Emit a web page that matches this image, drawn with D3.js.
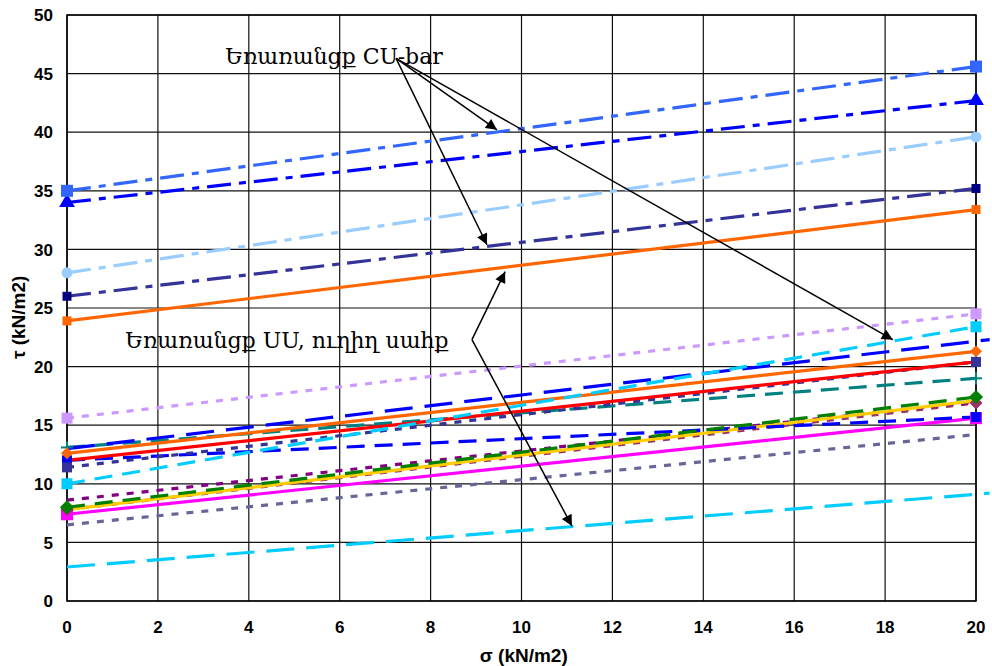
<!DOCTYPE html>
<html>
<head>
<meta charset="utf-8">
<script src="https://cdnjs.cloudflare.com/ajax/libs/d3/7.8.5/d3.min.js"></script>
<style>
  html, body { margin: 0; padding: 0; background: #fff; }
  svg { display: block; }
  .tick-lbl { font-family: "Liberation Sans", Arial, sans-serif; font-weight: bold; font-size: 17px; fill: #000; }
  .ax-title { font-family: "Liberation Sans", Arial, sans-serif; font-weight: bold; font-size: 19px; fill: #000; }
  .note { font-family: "DejaVu Serif", "Liberation Serif", serif; font-size: 22px; fill: #000; }
</style>
</head>
<body>
<svg id="chart" width="992" height="666"></svg>
<script>
// ─────────────────────────────────────────────
// Données : τ à σ = 0 et σ = 20
// ─────────────────────────────────────────────
const xTicks = [0, 2, 4, 6, 8, 10, 12, 14, 16, 18, 20];
const yTicks = [0, 5, 10, 15, 20, 25, 30, 35, 40, 45, 50];

// séries CU-bar (tirets-points)
const cuNames   = ['CU1', 'CU2', 'CU3', 'CU4', 'CU5'];
const cuStart   = [35.0, 34.0, 28.0, 26.0, 23.9];
const cuEnd     = [45.6, 42.7, 39.6, 35.2, 33.4];

// séries UU
const uuNames   = ['UU1', 'UU2', 'UU3', 'UU4', 'UU5', 'UU6', 'UU7', 'UU8', 'UU9', 'UU10', 'UU11', 'UU12', 'UU13', 'UU14', 'UU15'];
const uuStart   = [15.6, 10.0, 13.0, 12.6, 12.0, 11.4, 13.1, 8.0, 7.8, 8.6, 7.8, 7.4, 12.0, 6.5, 2.9];
const uuEnd     = [24.5, 23.4, 22.3, 21.3, 20.4, 20.4, 19.0, 17.4, 17.1, 17.0, 16.9, 15.6, 15.7, 14.2, 9.2];
const uuXEnd    = [20, 20, 20.3, 20, 20, 20, 20, 20, 20, 20, 20, 20, 20, 20, 20.3];

// ─────────────────────────────────────────────
// Styles
// ─────────────────────────────────────────────
const DASHDOT = '24,8,7,8';
const DASH    = '18,10';
const LDASH   = '28,12';
const DOT     = '7,8';

const cuStyle = [
  { color: '#3366FF', mk: 'square',   mc: '#3366FF', ms: 12, dash: DASHDOT },
  { color: '#0000FF', mk: 'triangle', mc: '#0000FF', ms: 12, dash: DASHDOT },
  { color: '#99CCFF', mk: 'circle',   mc: '#99CCFF', ms: 11, dash: DASHDOT },
  { color: '#333399', mk: 'square',   mc: '#000080', ms: 9,  dash: DASHDOT },
  { color: '#FF6600', mk: 'square',   mc: '#FF6600', ms: 9,  dash: null }
];
const uuStyle = [
  { color: '#CC99FF', mk: 'square',  mc: '#CC99FF', ms: 11, dash: DOT },
  { color: '#00CCFF', mk: 'square',  mc: '#00CCFF', ms: 11, dash: DASH },
  { color: '#0000FF', mk: null,      dash: LDASH },
  { color: '#FF6600', mk: 'diamond', mc: '#FF6600', ms: 11, dash: null },
  { color: '#FF0000', mk: null,      dash: null },
  { color: '#333399', mk: 'square',  mc: '#333399', ms: 10, dash: DOT },
  { color: '#008080', mk: 'plus',    mc: '#008080', ms: 12, dash: DASH },
  { color: '#008000', mk: 'diamond', mc: '#008000', ms: 13, dash: DASH },
  { color: '#FFCC00', mk: null,      dash: null },
  { color: '#800080', mk: null,      dash: DOT },
  { color: '#993366', mk: 'diamond', mc: '#993366', ms: 12, dash: DOT },
  { color: '#FF00FF', mk: 'square',  mc: '#FF00FF', ms: 12, dash: null },
  { color: '#0000FF', mk: 'square',  mc: '#0000FF', ms: 10, dash: DASH },
  { color: '#666699', mk: null,      dash: DOT },
  { color: '#00CCFF', mk: null,      dash: LDASH }
];

// annotations (coordonnées en unités des axes)
const notes = [
  { text: 'Եռառանցք CU-bar', x: 3.48, y: 45.8, from: [7.24, 46.3],
    to: [[9.46, 40.2], [9.24, 30.4], [18.17, 22.3]] },
  { text: 'Եռառանցք UU, ուղիղ սահք', x: 1.28, y: 21.6, from: [8.91, 22.3],
    to: [[9.64, 28.1], [11.11, 6.4]] }
];

// ─────────────────────────────────────────────
// Mise en page
// ─────────────────────────────────────────────
const W = 992, H = 666;
const M = { left: 67, right: 16, top: 15, bottom: 65 };
const svg = d3.select('#chart');
const x = d3.scaleLinear().domain([0, 20]).range([M.left, W - M.right]);
const y = d3.scaleLinear().domain([0, 50]).range([H - M.bottom, M.top]);

// grille
const grid = svg.append('g');
grid.selectAll('line.v').data(xTicks).enter().append('line')
  .attr('x1', d => x(d)).attr('x2', d => x(d))
  .attr('y1', y(0)).attr('y2', y(50))
  .attr('stroke', '#111').attr('stroke-width', 1.2);
grid.selectAll('line.h').data(yTicks).enter().append('line')
  .attr('x1', x(0)).attr('x2', x(20))
  .attr('y1', d => y(d)).attr('y2', d => y(d))
  .attr('stroke', '#111').attr('stroke-width', 1.2);
svg.append('rect')
  .attr('x', x(0)).attr('y', y(50))
  .attr('width', x(20) - x(0)).attr('height', y(0) - y(50))
  .attr('fill', 'none').attr('stroke', '#000').attr('stroke-width', 1.5);

// graduations
svg.append('g').selectAll('text').data(yTicks).enter().append('text')
  .attr('class', 'tick-lbl')
  .attr('x', x(0) - 14).attr('y', d => y(d))
  .attr('dy', '0.36em').attr('text-anchor', 'end')
  .text(d => d);
svg.append('g').selectAll('text').data(xTicks).enter().append('text')
  .attr('class', 'tick-lbl')
  .attr('x', d => x(d)).attr('y', y(0) + 26)
  .attr('dy', '0.36em').attr('text-anchor', 'middle')
  .text(d => d);

svg.append('text').attr('class', 'ax-title')
  .attr('x', x(10.05)).attr('y', H - 4)
  .attr('text-anchor', 'middle').text('σ (kN/m2)');
svg.append('text').attr('class', 'ax-title')
  .attr('transform', `translate(25,${y(24.2)}) rotate(-90)`)
  .attr('text-anchor', 'middle').text('τ (kN/m2)');

// ─────────────────────────────────────────────
// Séries
// ─────────────────────────────────────────────
const series = [];
cuNames.forEach((n, i) => series.push({ name: n, pts: [[0, cuStart[i]], [20, cuEnd[i]]], st: cuStyle[i] }));
uuNames.forEach((n, i) => series.push({ name: n, pts: [[0, uuStart[i]], [uuXEnd[i], uuEnd[i]]], st: uuStyle[i] }));

// ordre de tracé : les lignes du bas d'abord
const drawOrder = [19, 18, 16, 15, 14, 13, 17, 12, 11, 10, 9, 8, 7, 6, 5, 4, 3, 2, 1, 0];
const line = d3.line().x(d => x(d[0])).y(d => y(d[1]));

const symbolOf = {
  square: d3.symbolSquare, triangle: d3.symbolTriangle, circle: d3.symbolCircle,
  diamond: d3.symbolDiamond2, plus: d3.symbolCross
};

const gSeries = svg.append('g');
drawOrder.forEach(idx => {
  const s = series[idx];
  gSeries.append('path')
    .datum(s.pts)
    .attr('d', line)
    .attr('fill', 'none')
    .attr('stroke', s.st.color)
    .attr('stroke-width', 3.2)
    .attr('stroke-dasharray', s.st.dash);
});
drawOrder.forEach(idx => {
  const s = series[idx];
  if (!s.st.mk) return;
  const sz = s.st.ms;
  s.pts.forEach(p => {
    if (s.st.mk === 'plus') {
      const g = gSeries.append('g').attr('transform', `translate(${x(p[0])},${y(p[1])})`);
      g.append('line').attr('x1', -sz / 2).attr('x2', sz / 2).attr('stroke', s.st.mc).attr('stroke-width', 2);
      g.append('line').attr('y1', -sz / 2).attr('y2', sz / 2).attr('stroke', s.st.mc).attr('stroke-width', 2);
      return;
    }
    const area = s.st.mk === 'square' ? sz * sz : s.st.mk === 'circle' ? Math.PI * sz * sz / 4 : sz * sz * 0.75;
    gSeries.append('path')
      .attr('d', d3.symbol().type(symbolOf[s.st.mk]).size(area))
      .attr('transform', `translate(${x(p[0])},${y(p[1])})`)
      .attr('fill', s.st.mc);
  });
});

// ─────────────────────────────────────────────
// Annotations
// ─────────────────────────────────────────────
svg.append('defs').append('marker')
  .attr('id', 'arr').attr('viewBox', '0 0 10 10')
  .attr('refX', 10).attr('refY', 5)
  .attr('markerWidth', 15).attr('markerHeight', 11)
  .attr('markerUnits', 'userSpaceOnUse')
  .attr('orient', 'auto')
  .append('path').attr('d', 'M0,0 L10,5 L0,10 Z').attr('fill', '#000');

const gNotes = svg.append('g');
notes.forEach(n => {
  gNotes.append('text').attr('class', 'note')
    .attr('x', x(n.x)).attr('y', y(n.y)).text(n.text);
  n.to.forEach(t => {
    gNotes.append('line')
      .attr('x1', x(n.from[0])).attr('y1', y(n.from[1]))
      .attr('x2', x(t[0])).attr('y2', y(t[1]))
      .attr('stroke', '#000').attr('stroke-width', 1.5)
      .attr('marker-end', 'url(#arr)');
  });
});
</script>
</body>
</html>
